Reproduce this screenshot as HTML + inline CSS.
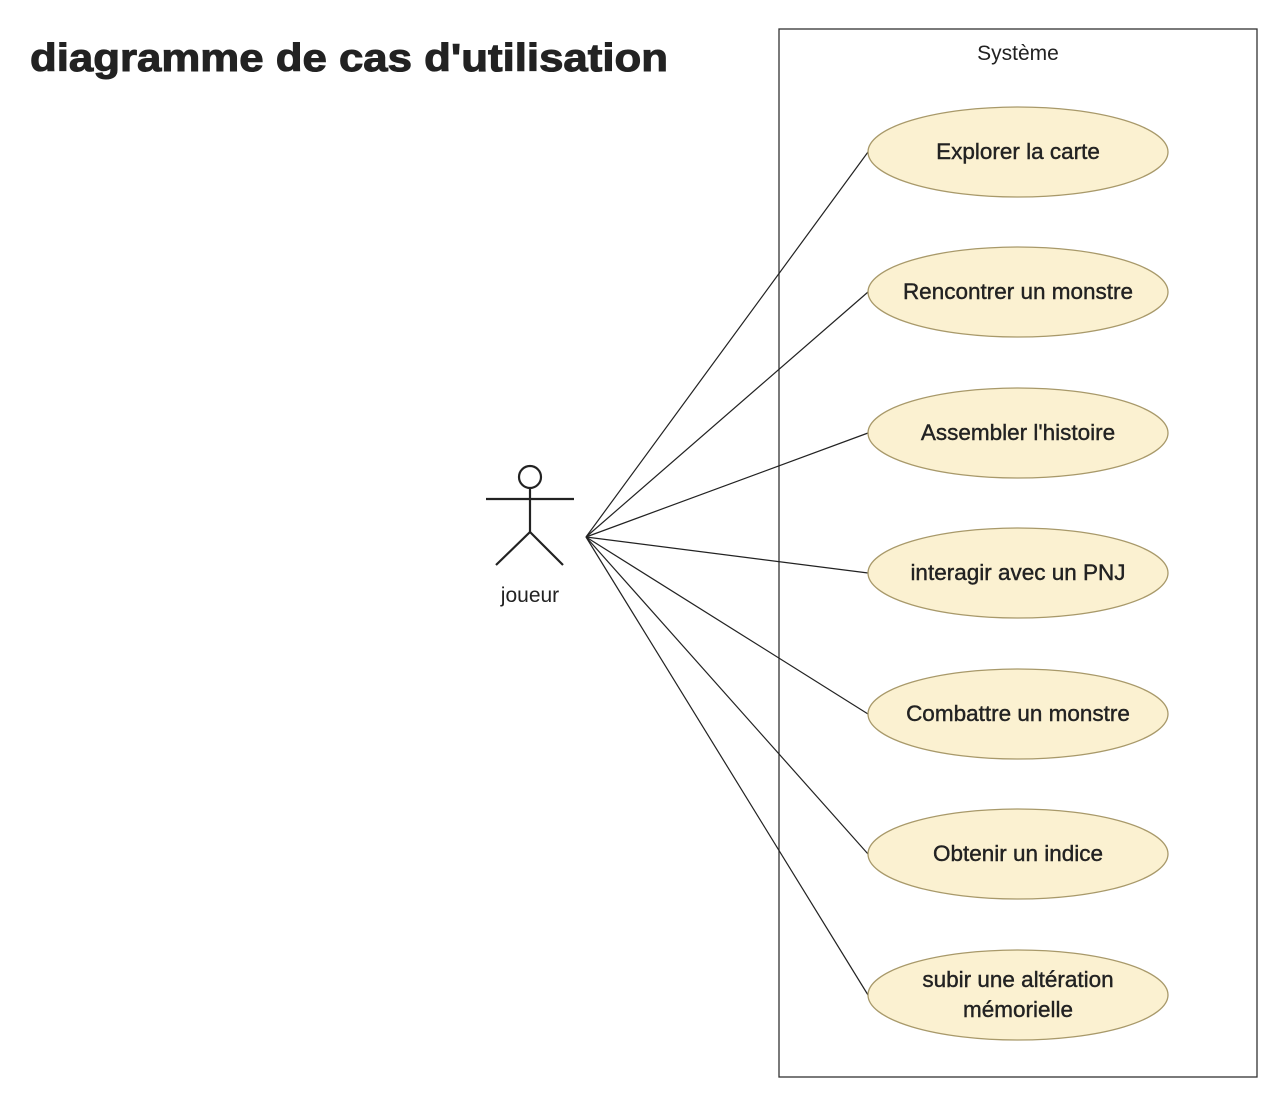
<!DOCTYPE html>
<html><head><meta charset="utf-8"><style>
html,body{margin:0;padding:0;background:#fff;}
svg{display:block;}
text{font-family:"Liberation Sans",sans-serif;fill:#222;}
</style></head><body>
<svg width="1286" height="1104" viewBox="0 0 1286 1104" xmlns="http://www.w3.org/2000/svg">
<rect x="0" y="0" width="1286" height="1104" fill="#fff"/>
<text x="30" y="71" font-size="39" font-weight="bold" textLength="638" lengthAdjust="spacingAndGlyphs" style="fill:#222;stroke:#222;stroke-width:1">diagramme de cas d'utilisation</text>
<rect x="779" y="29" width="478" height="1048" fill="none" stroke="#333" stroke-width="1.3"/>
<text x="1018" y="60" font-size="21" text-anchor="middle">Système</text>
<g stroke="#222" stroke-width="1.2" fill="none">
<line x1="586" y1="537" x2="868" y2="152"/>
<line x1="586" y1="537" x2="868" y2="292"/>
<line x1="586" y1="537" x2="868" y2="433"/>
<line x1="586" y1="537" x2="868" y2="573"/>
<line x1="586" y1="537" x2="868" y2="714"/>
<line x1="586" y1="537" x2="868" y2="854"/>
<line x1="586" y1="537" x2="868" y2="995"/>
</g>
<g stroke="#222" stroke-width="2.2" fill="none">
<circle cx="530" cy="477" r="11"/>
<line x1="530" y1="488" x2="530" y2="532"/>
<line x1="486" y1="499" x2="574" y2="499"/>
<line x1="530" y1="532" x2="496" y2="565"/>
<line x1="530" y1="532" x2="563" y2="565"/>
</g>
<text x="530" y="602" font-size="21" text-anchor="middle">joueur</text>
<g fill="#fbf1d1" stroke="#a8996a" stroke-width="1.3">
<ellipse cx="1018" cy="152" rx="150" ry="45"/>
<ellipse cx="1018" cy="292" rx="150" ry="45"/>
<ellipse cx="1018" cy="433" rx="150" ry="45"/>
<ellipse cx="1018" cy="573" rx="150" ry="45"/>
<ellipse cx="1018" cy="714" rx="150" ry="45"/>
<ellipse cx="1018" cy="854" rx="150" ry="45"/>
<ellipse cx="1018" cy="995" rx="150" ry="45"/>
</g>
<g font-size="22.5" text-anchor="middle" style="stroke:#222;stroke-width:0.4">
<text x="1018" y="159">Explorer la carte</text>
<text x="1018" y="299">Rencontrer un monstre</text>
<text x="1018" y="440">Assembler l'histoire</text>
<text x="1018" y="580">interagir avec un PNJ</text>
<text x="1018" y="721">Combattre un monstre</text>
<text x="1018" y="861">Obtenir un indice</text>
<text x="1018" y="987">subir une altération</text>
<text x="1018" y="1017">mémorielle</text>
</g>
</svg>
</body></html>
